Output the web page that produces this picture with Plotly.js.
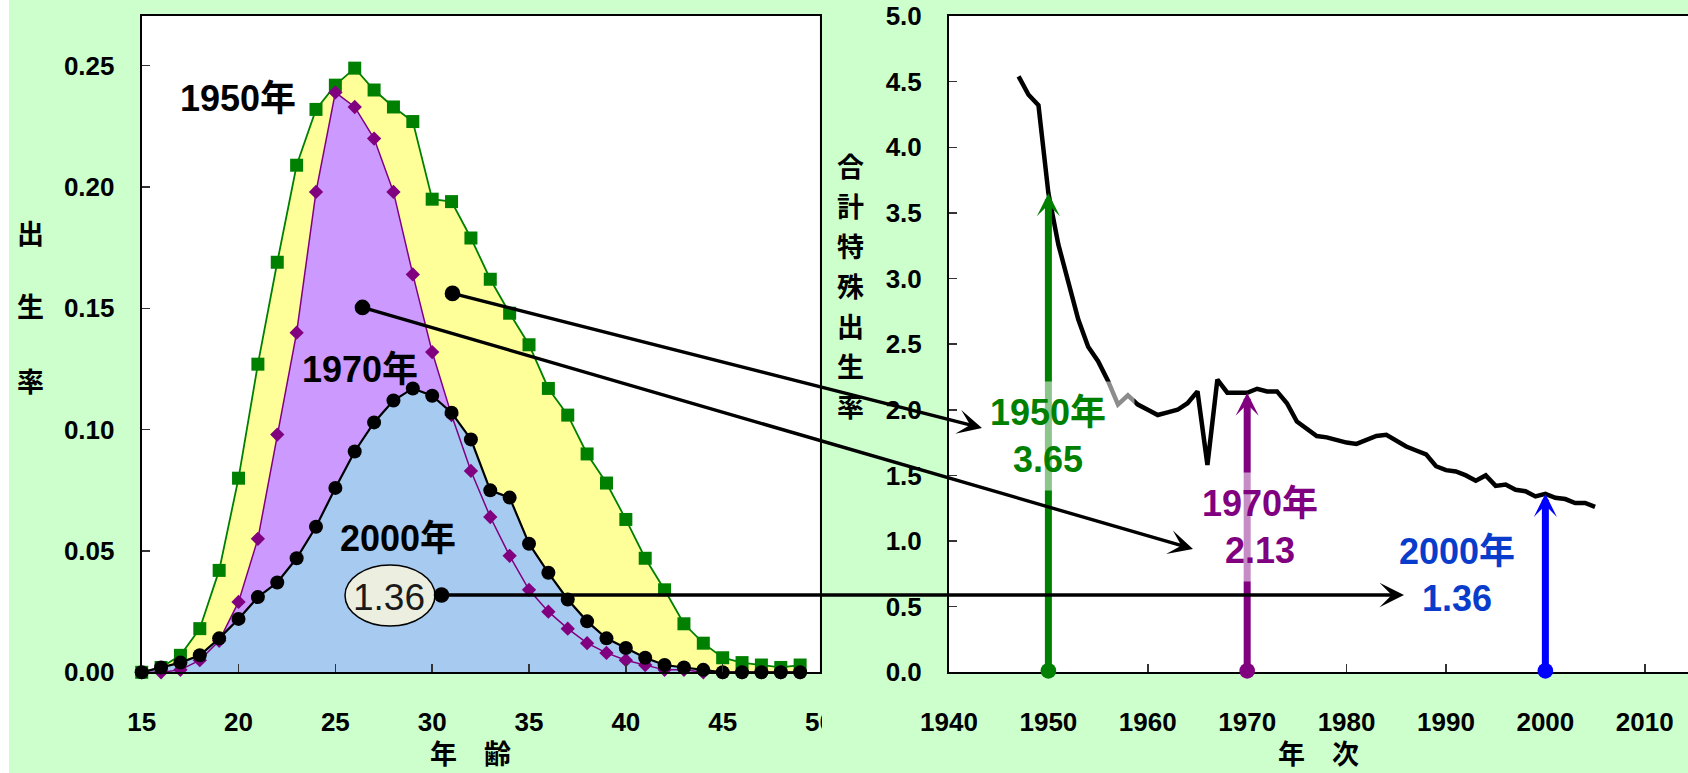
<!DOCTYPE html>
<html>
<head>
<meta charset="utf-8">
<script src="https://cdn.plot.ly/plotly-3.0.1.min.js"></script>
<style>
  html, body { margin: 0; padding: 0; background: #CCFFCC; }
  #chart { width: 1688px; height: 773px; }
</style>
</head>
<body>
<div id="chart"></div>
<script>
// Age-specific fertility rates (births per woman per year of age)
const ages = [15,16,17,18,19,20,21,22,23,24,25,26,27,28,29,30,31,32,33,34,35,36,37,38,39,40,41,42,43,44,45,46,47,48,49];
const rate1950 = [0.000,0.002,0.007,0.018,0.042,0.080,0.127,0.169,0.209,0.232,0.242,0.249,0.240,0.233,0.227,0.195,0.194,0.179,0.162,0.148,0.135,0.117,0.106,0.090,0.078,0.063,0.047,0.034,0.020,0.012,0.006,0.004,0.003,0.002,0.003];
const rate1970 = [0.000,0.000,0.001,0.005,0.013,0.029,0.055,0.098,0.140,0.198,0.239,0.233,0.220,0.198,0.164,0.132,0.106,0.083,0.064,0.048,0.034,0.025,0.018,0.012,0.008,0.005,0.003,0.001,0.001,0.000,0.000,0.000,0.000,0.000,0.000];
const rate2000 = [0.000,0.002,0.004,0.007,0.014,0.022,0.031,0.037,0.047,0.060,0.076,0.091,0.103,0.112,0.117,0.114,0.107,0.096,0.075,0.072,0.053,0.041,0.030,0.021,0.014,0.010,0.006,0.003,0.002,0.001,0.000,0.000,0.000,0.000,0.000];
const ageTicks = [15,20,25,30,35,40,45,50];
const rateTicks = [0.00,0.05,0.10,0.15,0.20,0.25];

// Total fertility rate by year
const tfrYears = [1947,1948,1949,1950,1951,1952,1953,1954,1955,1956,1957,1958,1959,1960,1961,1962,1963,1964,1965,1966,1967,1968,1969,1970,1971,1972,1973,1974,1975,1976,1977,1978,1979,1980,1981,1982,1983,1984,1985,1986,1987,1988,1989,1990,1991,1992,1993,1994,1995,1996,1997,1998,1999,2000,2001,2002,2003,2004,2005];
const tfrValues = [4.54,4.40,4.32,3.65,3.26,2.98,2.69,2.48,2.37,2.22,2.04,2.11,2.04,2.00,1.96,1.98,2.00,2.05,2.14,1.58,2.23,2.13,2.13,2.13,2.16,2.14,2.14,2.05,1.91,1.85,1.80,1.79,1.77,1.75,1.74,1.77,1.80,1.81,1.76,1.72,1.69,1.66,1.57,1.54,1.53,1.50,1.46,1.50,1.42,1.43,1.39,1.38,1.34,1.36,1.33,1.32,1.29,1.29,1.26];
const yearTicks = [1940,1950,1960,1970,1980,1990,2000,2010];
const tfrTicks = [0.0,0.5,1.0,1.5,2.0,2.5,3.0,3.5,4.0,4.5,5.0];

// Highlighted years
const keyYears = [1950, 1970, 2000];
const keyTFR = [3.65, 2.13, 1.36];
const keyLabels = ['1950年', '1970年', '2000年'];
const keyColors = ['#008000', '#800080', '#0000FF'];
const keyTextColors = ['#008000', '#800080', '#0A3CCC'];
const fillColors = ['#FFFF99', '#CC99FF', '#A6CAF0'];

const leftTitle = '出生率';
const rightTitle = '合計特殊出生率';
const leftXTitle = '年　齢';
const rightXTitle = '年　次';

// page geometry helpers (pixels -> paper fraction)
const W = 1688, H = 773;
const fx = p => p / W;
const fy = p => 1 - p / H;

const FONT = '"Liberation Sans", Arial, "Noto Sans CJK JP", sans-serif';

const rates = [rate1950, rate1970, rate2000];
const markerSpecs = [
  {symbol: 'square', size: 13, color: '#008000'},
  {symbol: 'diamond', size: 11, color: '#800080'},
  {symbol: 'circle', size: 14, color: '#000000'}
];
const lineSpecs = [
  {color: '#008000', width: 1.8},
  {color: '#800080', width: 1.5},
  {color: '#000000', width: 2.2}
];

const traces = [];
// filled areas first so every curve sits above all fills
rates.forEach((r, i) => {
  traces.push({
    x: ages, y: r, type: 'scatter', mode: 'lines',
    line: {width: 0, color: fillColors[i]},
    fill: 'tozeroy', fillcolor: fillColors[i],
    hoverinfo: 'skip', xaxis: 'x', yaxis: 'y'
  });
});
rates.forEach((r, i) => {
  traces.push({
    x: ages, y: r, type: 'scatter', mode: 'lines+markers',
    line: lineSpecs[i], marker: markerSpecs[i],
    cliponaxis: false, xaxis: 'x', yaxis: 'y'
  });
});
traces.push({
  x: tfrYears, y: tfrValues, type: 'scatter', mode: 'lines',
  line: {color: '#000000', width: 4.5},
  xaxis: 'x2', yaxis: 'y2'
});

const annotations = [];

// vertical arrows from the axis up to each highlighted TFR value
keyYears.forEach((yr, i) => {
  annotations.push({
    xref: 'x2', yref: 'y2', axref: 'x2', ayref: 'y2',
    x: yr, y: keyTFR[i], ax: yr, ay: 0, text: '',
    showarrow: true, arrowside: 'end+start',
    arrowhead: 3, arrowsize: 0.55,
    startarrowhead: 6, startarrowsize: 0.56,
    arrowwidth: 7, arrowcolor: keyColors[i], standoff: 0, startstandoff: 0
  });
});

// value labels on the right chart
const labelBoxes = [
  {cx: 1048, cy: 436, bg: 'rgba(255,255,255,0.55)'},
  {cx: 1260, cy: 527, bg: 'rgba(255,255,255,0.55)'},
  {cx: 1457, cy: 575, bg: 'rgba(0,0,0,0)'}
];
keyYears.forEach((yr, i) => {
  annotations.push({
    xref: 'paper', yref: 'paper', x: fx(labelBoxes[i].cx), y: fy(labelBoxes[i].cy),
    xanchor: 'center', yanchor: 'middle', showarrow: false,
    text: keyLabels[i] + '<br>' + keyTFR[i].toFixed(2),
    width: 172, height: 108, borderpad: 0,
    bgcolor: labelBoxes[i].bg,
    font: {family: FONT, size: 36, weight: 'bold', color: keyTextColors[i]}
  });
});

// year labels on the left chart
const curveLabels = [
  {cx: 238, cy: 98}, {cx: 360, cy: 370}, {cx: 398, cy: 538}
];
keyLabels.forEach((t, i) => {
  annotations.push({
    xref: 'paper', yref: 'paper', x: fx(curveLabels[i].cx), y: fy(curveLabels[i].cy),
    xanchor: 'center', yanchor: 'middle', showarrow: false, text: t,
    font: {family: FONT, size: 36, weight: 'bold', color: '#000000'}
  });
});

// TFR value inside the oval badge
annotations.push({
  xref: 'paper', yref: 'paper', x: fx(389), y: fy(597),
  xanchor: 'center', yanchor: 'middle', showarrow: false,
  text: keyTFR[2].toFixed(2),
  font: {family: FONT, size: 37, color: '#1a1a1a'}
});

// connector arrows from the curves to the TFR chart
const links = [
  {hx: 982, hy: 428, tx: 451, ty: 293},
  {hx: 1193, hy: 549, tx: 361, ty: 307},
  {hx: 1404, hy: 595, tx: 440, ty: 595}
];
links.forEach(l => {
  annotations.push({
    xref: 'paper', yref: 'paper', x: fx(l.hx), y: fy(l.hy),
    ax: l.tx - l.hx, ay: l.ty - l.hy, axref: 'pixel', ayref: 'pixel',
    text: '', showarrow: true, arrowside: 'end+start',
    arrowhead: 3, arrowsize: 1.2, startarrowhead: 6, startarrowsize: 1.15,
    arrowwidth: 3.4, arrowcolor: '#000000', standoff: 0, startstandoff: 0
  });
});

// vertical axis titles, one character per line
const titleFont = {family: FONT, size: 27, weight: 'bold', color: '#000000'};
const leftTitleY = [235, 308, 383];
Array.from(leftTitle).forEach((ch, i) => {
  annotations.push({xref: 'paper', yref: 'paper', x: fx(30), y: fy(leftTitleY[i]),
    xanchor: 'center', yanchor: 'middle', showarrow: false, text: ch, font: titleFont});
});
Array.from(rightTitle).forEach((ch, i) => {
  annotations.push({xref: 'paper', yref: 'paper', x: fx(850), y: fy(168 + i * 40),
    xanchor: 'center', yanchor: 'middle', showarrow: false, text: ch, font: titleFont});
});
annotations.push({xref: 'paper', yref: 'paper', x: fx(470), y: fy(755),
  xanchor: 'center', yanchor: 'middle', showarrow: false, text: leftXTitle, font: titleFont});
annotations.push({xref: 'paper', yref: 'paper', x: fx(1318), y: fy(755),
  xanchor: 'center', yanchor: 'middle', showarrow: false, text: rightXTitle, font: titleFont});

const tickFont = {family: FONT, size: 26, weight: 'bold', color: '#000000'};
const axisCommon = {
  showgrid: false, zeroline: false, showline: true, linecolor: '#000000', linewidth: 2,
  ticks: 'inside', ticklen: 8, tickwidth: 1.5, tickcolor: '#333333',
  tickfont: tickFont, fixedrange: true
};

const layout = {
  width: W, height: H,
  margin: {l: 0, r: 0, t: 0, b: 0, pad: 0},
  paper_bgcolor: '#CCFFCC', plot_bgcolor: '#FFFFFF',
  showlegend: false, hovermode: false,
  font: {family: FONT},
  xaxis: Object.assign({}, axisCommon, {
    domain: [fx(141.7), fx(819.5)], range: [15, 50], anchor: 'y',
    tickmode: 'array', tickvals: ageTicks, mirror: true, ticklabelstandoff: 25
  }),
  yaxis: Object.assign({}, axisCommon, {
    domain: [fy(672.3), fy(16)], range: [0, 0.2705], anchor: 'x',
    tickmode: 'array', tickvals: rateTicks, tickformat: '.2f', mirror: true, ticklabelstandoff: 20
  }),
  xaxis2: Object.assign({}, axisCommon, {
    domain: [fx(949), 1], range: [1940, 2014.35], anchor: 'y2',
    tickmode: 'array', tickvals: yearTicks, mirror: true, ticklabelstandoff: 25
  }),
  yaxis2: Object.assign({}, axisCommon, {
    domain: [fy(672.3), fy(16)], range: [0, 5], anchor: 'x2',
    tickmode: 'array', tickvals: tfrTicks, tickformat: '.1f', mirror: false, ticklabelstandoff: 20
  }),
  shapes: [
    // white strip along the left edge
    {type: 'rect', xref: 'paper', yref: 'paper', x0: 0, x1: fx(9), y0: 0, y1: 1,
     fillcolor: '#FFFFFF', line: {width: 0}, layer: 'below'},
    // panel edge trimming the last age label
    {type: 'rect', xref: 'paper', yref: 'paper', x0: fx(822), x1: fx(878), y0: fy(740), y1: fy(692),
     fillcolor: '#CCFFCC', line: {width: 0}, layer: 'above'},
    // oval badge behind the 2000 TFR value
    {type: 'circle', xref: 'paper', yref: 'paper', x0: fx(345), x1: fx(435), y0: fy(626), y1: fy(565),
     fillcolor: '#ECEFDF', line: {color: '#000000', width: 1.5}, layer: 'above'}
  ],
  annotations: annotations
};

Plotly.newPlot('chart', traces, layout, {displayModeBar: false, staticPlot: true});
</script>
</body>
</html>
